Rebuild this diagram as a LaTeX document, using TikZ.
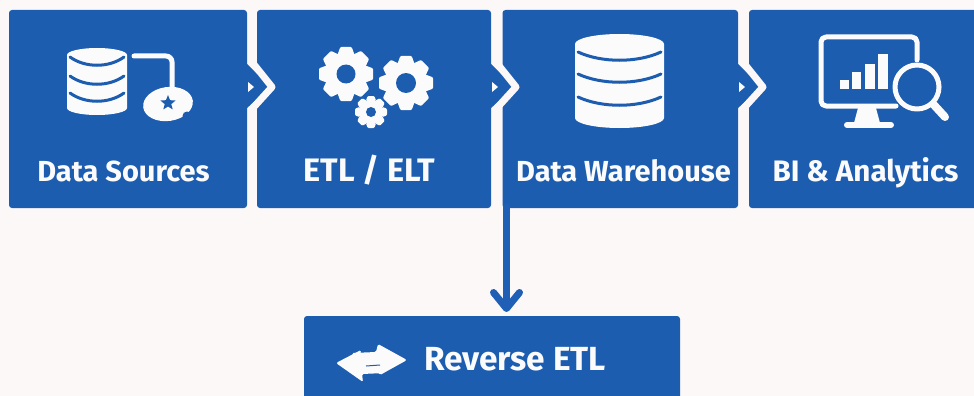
\documentclass[tikz,border=0pt]{standalone}
\usepackage{fontspec}
\setmainfont{Fira Sans}
\usetikzlibrary{arrows.meta,shapes.geometric}
\definecolor{pagebg}{HTML}{FCF8F7}
\definecolor{boxblue}{HTML}{1C5DB0}
\definecolor{arrowblue}{HTML}{1F5FB5}
\definecolor{inkwhite}{HTML}{FBFBFC}
\tikzset{
  box/.style={fill=boxblue,rounded corners=3pt,inner sep=0pt,outer sep=0pt,minimum height=198pt},
  lab/.style={text=inkwhite,anchor=base,inner sep=0pt},
  icon/.style={fill=inkwhite,draw=none},
  iconline/.style={draw=inkwhite,line cap=round,line join=round},
  flow/.style={draw=arrowblue,line width=7pt,line cap=round,-{Straight Barb[length=16pt,width=26pt,round]}}
}
\newcommand{\fs}[1]{\fontsize{#1}{#1}\selectfont\bfseries}
% database icon: left, right, top, bottom, ry, arc end ys
\newcommand{\dbicon}[8]{%
  \fill[icon] (#1,#3+#5) arc[start angle=180,end angle=360,x radius={(#2-#1)/2},y radius=#5]
     -- (#2,#4-#5) arc[start angle=0,end angle=180,x radius={(#2-#1)/2},y radius=#5] -- cycle;
  \foreach \yy in {#6,#7,#8}
    \draw[boxblue,line width=3pt,line cap=round] (#1+3,\yy) .. controls ({#1+(#2-#1)*0.3},\yy+11) and ({#2-(#2-#1)*0.3},\yy+11) .. (#2-3,\yy);
}
% gear: cx, cy, radius, hole radius
\newcommand{\gearicon}[4]{%
  \fill[icon] (#1,#2) circle[radius=#3*0.77];
  \foreach \aa in {0,45,...,315}
    \fill[icon,rounded corners=1pt,shift={(#1,#2)},rotate=\aa]
      (#3*0.7,-#3*0.32) -- (#3,-#3*0.21) -- (#3,#3*0.21) -- (#3*0.7,#3*0.32) -- cycle;
  \fill[boxblue] (#1,#2) circle[radius=#4];
}
% chevron after a box whose right edge is at #1
\newcommand{\chev}[1]{%
  \begin{scope}[shift={(#1,87)}]
    \fill[boxblue] (-1,-24) -- (23,0) -- (-1,22) -- cycle;
    \draw[pagebg,line width=7pt,line join=round] (5,-25) -- (25,0) -- (5,22);
    \fill[inkwhite] (1,-5) -- (7,0) -- (1,5) -- cycle;
  \end{scope}}
\begin{document}
\begin{tikzpicture}[x=1pt,y=-1pt]
\useasboundingbox (0,0) rectangle (974,396);
\clip (0,0) rectangle (974,396);
\fill[pagebg] (0,0) rectangle (974,396);
% boxes
\node[box,minimum width=238pt] (src) at (128,109) {};
\node[box,minimum width=234pt] (etl) at (374,109) {};
\node[box,minimum width=235.5pt] (dw) at (620.25,109) {};
\node[box,minimum width=245pt] (bi) at (871.5,109) {};
\node[box,minimum width=376pt,minimum height=100pt] (rev) at (492,366) {};
\chev{247}\chev{491}\chev{738}
% labels
\node[lab,font=\fs{29}] (t1) at (123.5,181) {Data Sources};
\node[lab,font=\fs{32.5}] (t2) at (369.5,181) {ETL / ELT};
\node[lab,font=\fs{29}] (t3) at (623.5,181) {Data Warehouse};
\node[lab,font=\fs{29.6}] (t4) at (865.5,181) {BI \& Analytics};
\node[lab,font=\fs{33.4}] (t5) at (515,370) {Reverse ETL};
% connector
\coordinate (drop) at (506.5,0);
\draw[flow] (drop |- dw.south) ++(0,-1) -- ([yshift=4pt]drop |- rev.north);
% icon 1
\dbicon{67}{127}{48}{115}{7}{57}{76}{93}
\draw[iconline,line width=5pt,rounded corners=6pt] (134,56) -- (172,56) -- (172,88);
\fill[icon,rotate around={8:(168,104)}] (168,104) ellipse[x radius=25,y radius=17];
\fill[boxblue] (187,116) circle[radius=4.5];
\node[star,star points=5,star point ratio=2.3,fill=boxblue,minimum size=16pt,inner sep=0pt] (st) at (168,103) {};
% gears
\gearicon{346}{74}{27}{9.5}
\gearicon{406}{83}{27}{10}
\gearicon{371}{112}{16}{5}
% icon 3
\dbicon{575}{664}{34}{128}{10}{52}{74}{97}
% icon 4
\draw[iconline,line width=5pt,rounded corners=5pt] (896,106) -- (821,106) -- (821,37) -- (917,37) -- (917,60);
\fill[icon] (858,108) -- (876,108) -- (880,123) -- (854,123) -- cycle;
\draw[iconline,line width=6pt] (847,125) -- (891,125);
\fill[icon] (840,80) rectangle (849,89);
\fill[icon] (852,72) rectangle (861,89);
\fill[icon] (865,64) rectangle (875,89);
\fill[icon] (878,54) rectangle (888,89);
\draw[iconline,line width=5pt] (917,87) circle[radius=22];
\draw[iconline,line width=8pt] (934,105) -- (945,117);
% reverse icon
\fill[icon,rounded corners=1.5pt] (407,360) -- (378,344) -- (376,352) -- (352,353) -- (358,372) -- (378,372) -- (380,375) -- cycle;
\fill[icon,rounded corners=1.5pt] (336,363) -- (361,350) -- (360,358) -- (375,360) -- (385,373) -- (362,374) -- (363,382) -- cycle;
\draw[boxblue,line width=1pt] (366,366) -- (380,365);
\end{tikzpicture}
\end{document}
